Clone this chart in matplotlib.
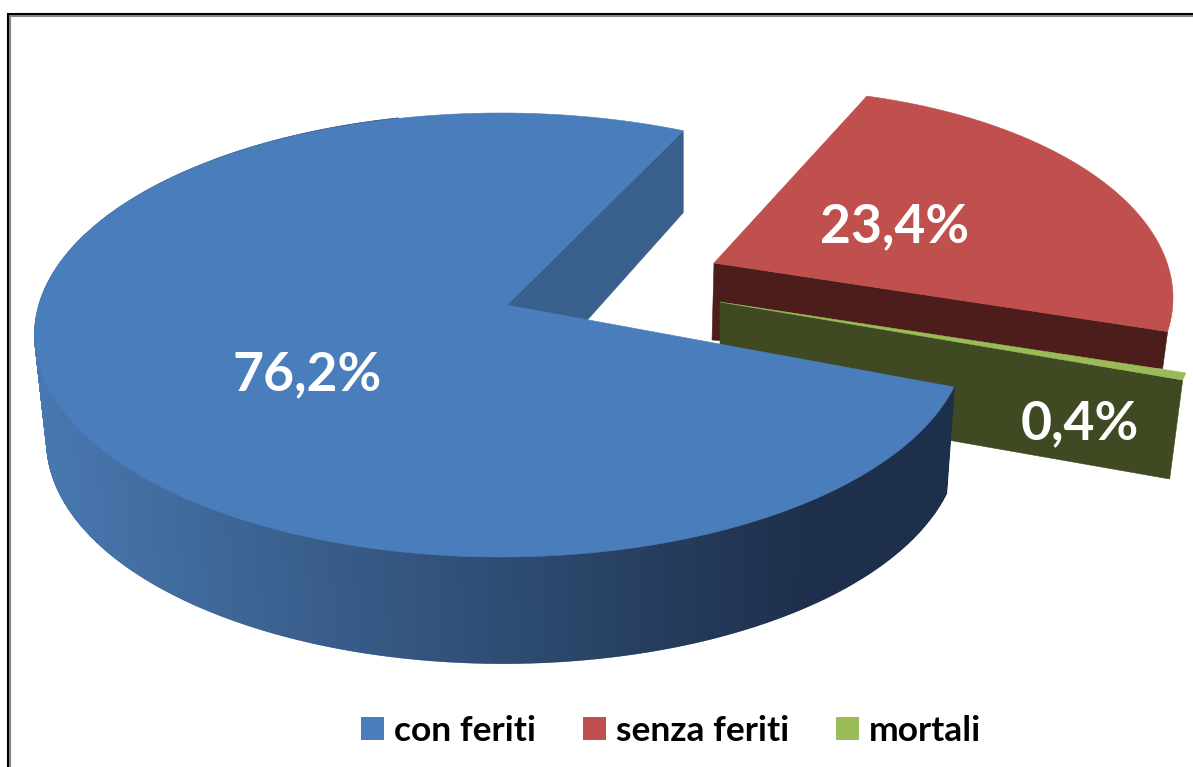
import numpy as np
import matplotlib
matplotlib.use("Agg")
import matplotlib.pyplot as plt
from matplotlib.patches import Polygon, Patch

categories = ["con feriti", "senza feriti", "mortali"]
values = [76.2, 23.4, 0.4]
value_labels = ["76,2%", "23,4%", "0,4%"]

TOP = ["#4A7DBB", "#C0504D", "#9BBB59"]
FACE = ["#395F8C", "#4D1D1B", "#3F4A22"]

plt.rcParams["font.family"] = ["Lato", "DejaVu Sans"]
fig = plt.figure(figsize=(11.93, 7.67), dpi=100, facecolor="white")
ax = fig.add_axes([0, 0, 1, 1])
ax.set_xlim(0, 1193)
ax.set_ylim(767, 0)
ax.axis("off")


def rim(c, a, b, alpha_deg, warp=0.0):
    alpha = np.asarray(alpha_deg, float)
    th = np.radians(alpha + warp * np.cos(np.radians(alpha)))
    return np.column_stack([c[0] + a * np.cos(th), c[1] - b * np.sin(th)])


def poly(pts, color, z, lw=0.4):
    ax.add_patch(Polygon(pts, closed=True, facecolor=color, edgecolor=color, lw=lw, zorder=z))


sweeps = [v / sum(values) * 360 for v in values]

# ---- senza feriti (exploded, far slice)
apex = np.array([714, 263])
s0 = 75
s1 = s0 - sweeps[1]
arc = rim((760, 298), 413, 209, np.linspace(s1, s0, 60))
poly([apex, arc[0], arc[0] + (-5, 37), apex + (-2, 77)], FACE[1], 2)
poly(np.vstack([apex, arc]), TOP[1], 3)

# ---- mortali (exploded, thin slice seen from its cut face)
apex = np.array([720, 302])
s0 = -14
s1 = s0 - sweeps[2]
arc = rim(apex, 480, 293, np.linspace(s1, s0, 6))
poly([apex, arc[0], arc[0] + (-13, 99), apex + (0, 98)], FACE[2], 4)
poly(np.vstack([apex, arc]), TOP[2], 5)

# ---- con feriti (main slice)
apex = np.array([507, 305])
c_top, a_top, b_top = (501, 335), 466, 222
c_bot, a_bot, b_bot = (503, 441), 456, 222
K = 12
s0 = 61.2
s1 = s0 + sweeps[0]
angles = np.linspace(s0, s1, 900)
top_arc = rim(c_top, a_top, b_top, angles, K)
bot_arc = rim(c_bot, a_bot, b_bot, angles, K)

# outer wall as a left-to-right gradient
light = np.array([72, 120, 176]) / 255
dark = np.array([29, 47, 74]) / 255
for i in range(len(angles) - 1):
    if top_arc[i, 1] < 300 and top_arc[i, 0] > 400:
        continue
    f = np.clip((top_arc[i, 0] - 35) / 780, 0, 1)
    col = light + (dark - light) * f
    poly([top_arc[i], top_arc[i + 1], bot_arc[i + 1], bot_arc[i]], col, 6, lw=1.2)

# cut face behind the opening
poly([apex, top_arc[0], top_arc[0] + (0, 82), apex + (0, 105)], FACE[0], 7)
poly(np.vstack([apex, top_arc]), TOP[0], 8)

# ---- value labels
for (x, y), txt, fs in zip([(307, 375), (895, 227), (1080, 424)], value_labels, [38.5, 38.5, 38.5]):
    ax.text(x, y, txt, color="white", fontsize=fs, fontweight="bold",
            ha="center", va="center", zorder=10)

# ---- legend
handles = [Patch(facecolor=c, edgecolor="none", label=l) for c, l in zip(TOP, categories)]
leg = ax.legend(handles=handles, loc="center", bbox_to_anchor=(671, 731),
                bbox_transform=ax.transData, ncol=3, frameon=False,
                prop={"size": 25.5, "weight": "bold"}, handlelength=0.65, handleheight=0.65,
                handletextpad=0.28, columnspacing=1.325, borderpad=0, labelcolor="black")

# ---- frame (top and left edges only)
ax.plot([8, 1193], [15.5, 15.5], color="#888888", lw=1.5, zorder=1, solid_capstyle="butt")
ax.plot([9.5, 9.5], [14, 767], color="#888888", lw=1.5, zorder=1, solid_capstyle="butt")
ax.plot([7, 1193], [14, 14], color="black", lw=1.5, zorder=1, solid_capstyle="butt")
ax.plot([8, 8], [13, 767], color="black", lw=1.5, zorder=1, solid_capstyle="butt")

fig.savefig("out.png", dpi=100)
